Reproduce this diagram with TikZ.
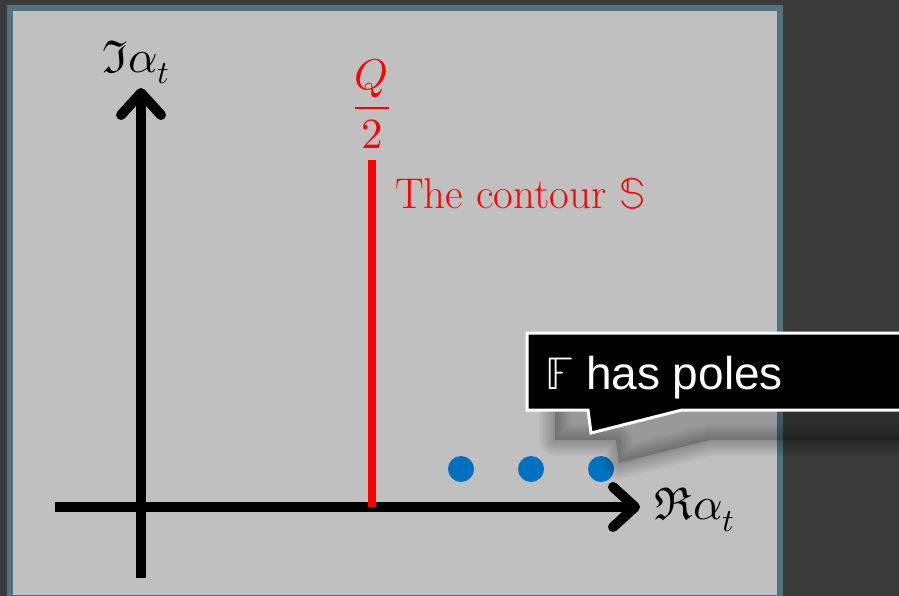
\documentclass[tikz,border=0pt]{standalone}
\usepackage{amsmath}
\usepackage{fontspec}
\usepackage{unicode-math}
\setmathfont{Latin Modern Math}
\setsansfont{Liberation Sans}
\usetikzlibrary{arrows.meta,positioning}
\definecolor{Slate}{RGB}{58,58,58}
\definecolor{Panel}{RGB}{192,192,192}
\definecolor{Teal}{RGB}{79,116,128}
\definecolor{PoleBlue}{RGB}{0,112,192}
\tikzset{
  axis/.style={line width=10pt,black,-{Straight Barb[length=22pt,width=40pt,round]}},
  axlabel/.style={font=\fontsize{46}{50}\selectfont,inner sep=0pt},
  pole/.style={circle,fill=PoleBlue,inner sep=0pt,minimum size=26pt},
  redtext/.style={text=red,font=\fontsize{43}{48}\selectfont,inner sep=0pt},
  callout/.style={fill=black,draw=white,line width=3pt,line join=miter},
}

\begin{document}
\begin{tikzpicture}[x=1pt,y=-1pt]
  \clip (0,0) rectangle (899,596);
  \fill[Slate] (0,0) rectangle (899,596);
  % panel
  \fill[Teal] (7,5) rectangle (783,602);
  \fill[Panel] (13,11) rectangle (777,595);
  % axes
  \coordinate (xstart) at (55,507);
  \coordinate (xend) at (640,507);
  \coordinate (ystart) at (141,578);
  \coordinate (yend) at (141,88);
  \draw[axis] (xstart) -- (xend);
  \draw[axis] (ystart) -- (yend);
  \node[axlabel,above=4pt of yend,xshift=-5pt] (imlabel) {$\Im\alpha_t$};
  \node[axlabel,right=14pt of xend,yshift=-3pt] (relabel) {$\Re\alpha_t$};
  % contour
  \coordinate (ctop) at (372,160);
  \coordinate (cbot) at (372,507);
  \draw[red,line width=8pt] (ctop) -- (cbot);
  \node[redtext] (qhalf) at (372,104) {$\dfrac{Q}{2}$};
  \node[redtext,anchor=base west] (clabel) at (395,208) {The contour $\mathbb{S}$};
  % poles
  \foreach \px/\nm in {461/p1,531/p2,601/p3}
    \node[pole] (\nm) at (\px,469) {};
  % callout with shadow
  \begin{scope}[shift={(28,30)}]
    \foreach \w in {32,28,...,4}
      \draw[black,opacity=0.03,line width=\w pt,line join=round]
        (527,333) -- (910,333) -- (910,410) -- (682,410) -- (591,433) -- (588,410) -- (527,410) -- cycle;
    \fill[black,opacity=0.2] (527,333) -- (910,333) -- (910,410) -- (682,410) -- (591,433) -- (588,410) -- (527,410) -- cycle;
  \end{scope}
  \draw[callout] (527,333) -- (910,333) -- (910,410) -- (682,410) -- (591,433) -- (588,410) -- (527,410) -- cycle;
  \node[anchor=base west,text=white,inner sep=0pt,font=\sffamily\fontsize{46}{50}\selectfont] (poles) at (545,389) {$\mathbb{F}$ has poles};
\end{tikzpicture}
\end{document}
